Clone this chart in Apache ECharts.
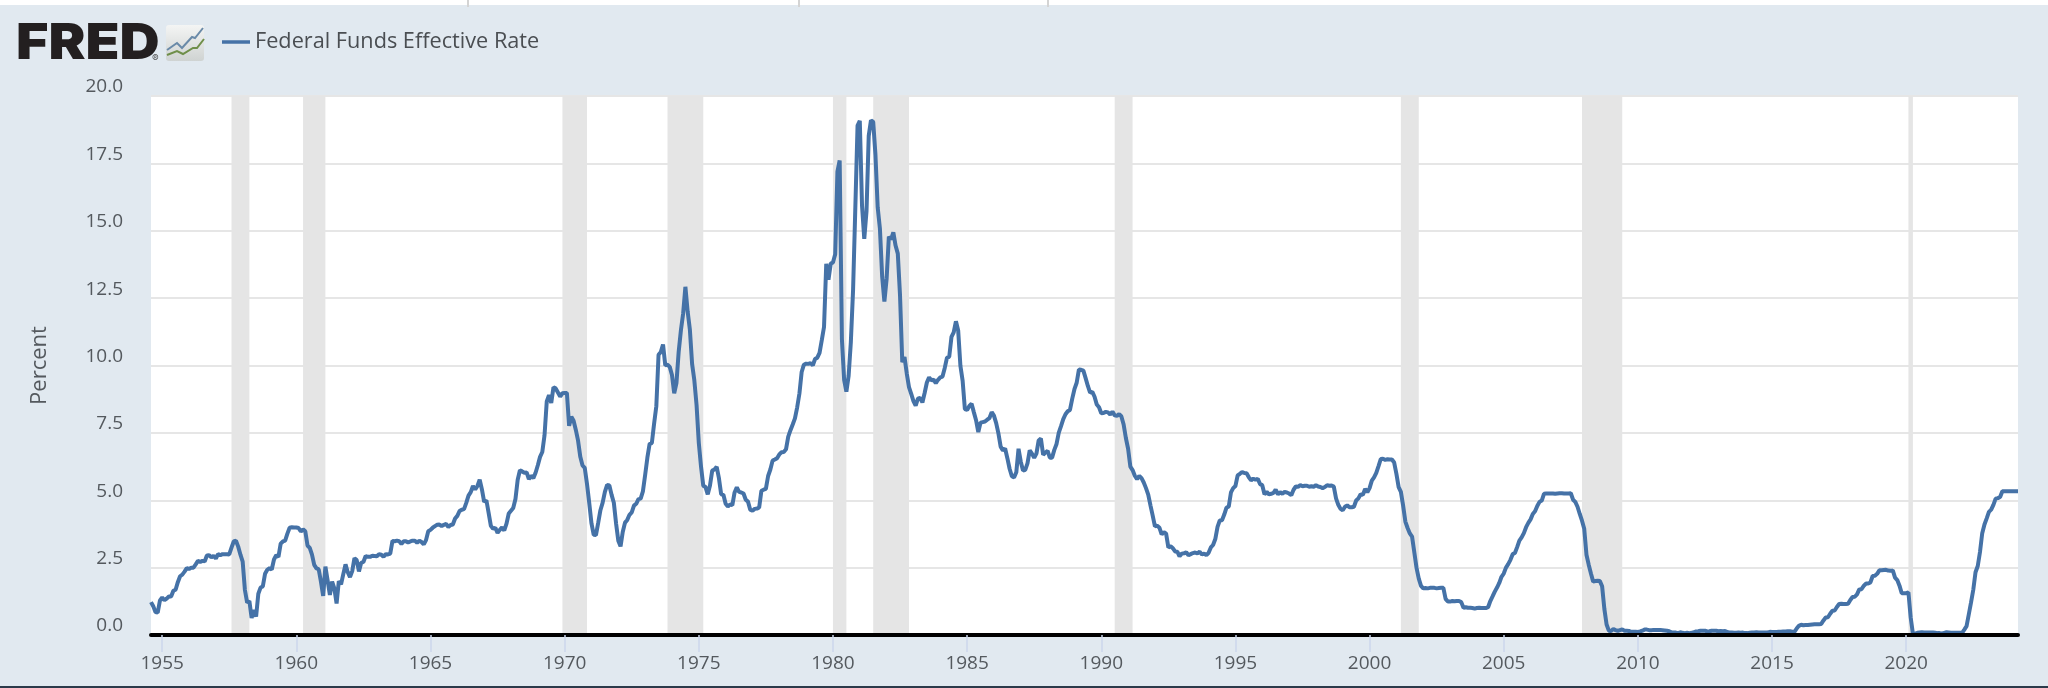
<!DOCTYPE html>
<html>
<head>
<meta charset="utf-8">
<title>Federal Funds Effective Rate</title>
<script src="https://cdn.jsdelivr.net/npm/echarts@6/dist/echarts.min.js"></script>
<style>
html,body{margin:0;padding:0;background:#e1e9f0;}
#chart{width:2048px;height:688px;}
</style>
</head>
<body>
<div id="chart"></div>
<script>
//月度数据, 1954-08 起
var rates1950s=[1.22,1.07,0.85,0.83,1.28,
    1.39,1.29,1.35,1.43,1.43,1.64,1.68,1.96,2.18,2.24,2.35,2.48,
    2.45,2.50,2.50,2.62,2.75,2.71,2.75,2.73,2.95,2.96,2.88,2.94,
    2.84,3.00,2.96,3.00,3.00,3.00,2.99,3.24,3.47,3.50,3.28,2.98,
    2.72,1.67,1.20,1.26,0.63,0.93,0.68,1.53,1.76,1.80,2.27,2.42,
    2.48,2.43,2.80,2.96,2.90,3.39,3.47,3.50,3.76,3.98,4.00,3.99];
var rates1960s=[3.99,3.97,3.84,3.92,3.85,3.32,3.23,2.98,2.60,2.47,2.44,1.98,
    1.45,2.54,2.02,1.49,1.98,1.73,1.17,2.00,1.88,2.26,2.62,2.33,
    2.15,2.37,2.85,2.78,2.36,2.68,2.71,2.93,2.90,2.90,2.94,2.93,
    2.92,3.00,2.98,2.90,3.00,2.99,3.02,3.49,3.48,3.50,3.48,3.38,
    3.48,3.48,3.43,3.47,3.50,3.50,3.42,3.50,3.45,3.36,3.52,3.85,
    3.90,3.98,4.04,4.09,4.10,4.04,4.09,4.12,4.01,4.08,4.10,4.32,
    4.42,4.60,4.65,4.67,4.90,5.17,5.30,5.53,5.40,5.53,5.76,5.40,
    4.94,5.00,4.53,4.05,3.94,3.98,3.79,3.90,3.99,3.88,4.13,4.51,
    4.61,4.71,5.05,5.76,6.11,6.07,6.02,6.03,5.78,5.91,5.82,6.02,
    6.30,6.61,6.79,7.41,8.67,8.90,8.61,9.19,9.15,9.00,8.85,8.97];
var rates1970s=[8.98,8.98,7.76,8.10,7.95,7.61,7.21,6.61,6.29,6.20,5.60,4.90,
    4.14,3.72,3.71,4.16,4.63,4.91,5.31,5.57,5.55,5.20,4.91,4.14,
    3.50,3.29,3.83,4.17,4.27,4.46,4.55,4.80,4.87,5.04,5.06,5.33,
    5.94,6.58,7.09,7.12,7.84,8.49,10.40,10.50,10.78,10.01,10.03,9.95,
    9.65,8.97,9.35,10.51,11.31,11.93,12.92,12.01,11.34,10.06,9.45,8.53,
    7.13,6.24,5.54,5.49,5.22,5.55,6.10,6.14,6.24,5.82,5.22,5.20,
    4.87,4.77,4.84,4.82,5.29,5.48,5.31,5.29,5.25,5.02,4.95,4.65,
    4.61,4.68,4.69,4.73,5.35,5.39,5.42,5.90,6.14,6.47,6.51,6.56,
    6.70,6.78,6.79,6.89,7.36,7.60,7.81,8.04,8.45,8.96,9.76,10.03,
    10.07,10.06,10.09,10.01,10.24,10.29,10.47,10.94,11.43,13.77,13.18,13.78];
var rates1980s=[13.82,14.13,17.19,17.61,10.98,9.47,9.03,9.61,10.87,12.81,15.85,18.90,
    19.08,15.93,14.70,15.72,18.52,19.10,19.04,17.82,15.87,15.08,13.31,12.37,
    13.22,14.78,14.68,14.94,14.45,14.15,12.59,10.12,10.31,9.71,9.20,8.95,
    8.68,8.51,8.77,8.80,8.63,8.98,9.37,9.56,9.45,9.48,9.34,9.47,
    9.56,9.59,9.91,10.29,10.32,11.06,11.23,11.64,11.30,9.99,9.43,8.38,
    8.35,8.50,8.58,8.27,7.97,7.53,7.88,7.90,7.92,7.99,8.05,8.27,
    8.14,7.86,7.48,6.99,6.85,6.92,6.56,6.17,5.89,5.85,6.04,6.91,
    6.43,6.10,6.13,6.37,6.85,6.73,6.58,6.73,7.22,7.29,6.69,6.77,
    6.83,6.58,6.58,6.87,7.09,7.51,7.75,8.01,8.19,8.30,8.35,8.76,
    9.12,9.36,9.85,9.84,9.81,9.53,9.24,8.99,9.02,8.84,8.55,8.45];
var rates1990s=[8.23,8.24,8.28,8.26,8.18,8.29,8.15,8.13,8.20,8.11,7.81,7.31,
    6.91,6.25,6.12,5.91,5.78,5.90,5.82,5.66,5.45,5.21,4.81,4.43,
    4.03,4.06,3.98,3.73,3.82,3.76,3.25,3.30,3.22,3.10,3.09,2.92,
    3.02,3.03,3.07,2.96,3.00,3.04,3.06,3.03,3.09,2.99,3.02,2.96,
    3.05,3.25,3.34,3.56,4.01,4.25,4.26,4.47,4.73,4.76,5.29,5.45,
    5.53,5.92,5.98,6.05,6.01,6.00,5.85,5.74,5.80,5.76,5.80,5.60,
    5.56,5.22,5.31,5.22,5.24,5.27,5.40,5.22,5.30,5.24,5.31,5.29,
    5.25,5.19,5.39,5.51,5.50,5.56,5.52,5.54,5.54,5.50,5.52,5.50,
    5.56,5.51,5.49,5.45,5.49,5.56,5.54,5.55,5.51,5.07,4.83,4.68,
    4.63,4.76,4.81,4.74,4.74,4.76,4.99,5.07,5.22,5.20,5.42,5.30];
var rates2000s=[5.45,5.73,5.85,6.02,6.27,6.53,6.54,6.50,6.52,6.51,6.51,6.40,
    5.98,5.49,5.31,4.80,4.21,3.97,3.77,3.65,3.07,2.49,2.09,1.82,
    1.73,1.74,1.73,1.75,1.75,1.75,1.73,1.74,1.75,1.75,1.34,1.24,
    1.24,1.26,1.25,1.26,1.26,1.22,1.01,1.03,1.01,1.01,1.00,0.98,
    1.00,1.01,1.00,1.00,1.00,1.03,1.26,1.43,1.61,1.76,1.93,2.16,
    2.28,2.50,2.63,2.79,3.00,3.04,3.26,3.50,3.62,3.78,4.00,4.16,
    4.29,4.49,4.59,4.79,4.94,4.99,5.24,5.25,5.25,5.25,5.25,5.24,
    5.25,5.26,5.26,5.25,5.25,5.25,5.26,5.02,4.94,4.76,4.49,4.24,
    3.94,2.98,2.61,2.28,1.98,2.00,2.01,2.00,1.81,0.97,0.39,0.16,
    0.15,0.22,0.18,0.15,0.18,0.21,0.16,0.16,0.15,0.12,0.12,0.12];
var rates2010s=[0.11,0.13,0.16,0.20,0.20,0.18,0.18,0.19,0.19,0.19,0.19,0.18,
    0.17,0.16,0.14,0.10,0.09,0.09,0.07,0.10,0.08,0.07,0.08,0.07,
    0.08,0.10,0.13,0.14,0.16,0.16,0.16,0.13,0.14,0.16,0.16,0.16,
    0.14,0.15,0.14,0.15,0.11,0.09,0.09,0.08,0.08,0.09,0.08,0.09,
    0.07,0.07,0.08,0.09,0.09,0.10,0.09,0.09,0.09,0.09,0.09,0.12,
    0.11,0.11,0.11,0.12,0.12,0.13,0.13,0.14,0.14,0.12,0.12,0.24,
    0.34,0.38,0.36,0.37,0.37,0.38,0.39,0.40,0.40,0.40,0.41,0.54,
    0.65,0.66,0.79,0.90,0.91,1.04,1.15,1.16,1.15,1.15,1.16,1.30,
    1.41,1.42,1.51,1.69,1.70,1.82,1.91,1.91,1.95,2.19,2.20,2.27,
    2.40,2.40,2.41,2.42,2.39,2.38,2.40,2.13,2.04,1.83,1.55,1.55];
var rates2020s=[1.55,1.58,0.65,0.05,0.05,0.08,0.09,0.10,0.09,0.09,0.09,0.09,
    0.09,0.08,0.07,0.07,0.06,0.08,0.10,0.09,0.08,0.08,0.08,0.08,
    0.08,0.08,0.20,0.33,0.77,1.21,1.68,2.33,2.56,3.08,3.78,4.10,
    4.33,4.57,4.65,4.83,5.06,5.08,5.12,5.33,5.33,5.33,5.33,5.33,
    5.33,5.33,5.33];
//衰退区间
var recessions=[['1957-08','1958-04'],['1960-04','1961-02'],['1969-12','1970-11'],
    ['1973-11','1975-03'],['1980-01','1980-07'],['1981-07','1982-11'],
    ['1990-07','1991-03'],['2001-03','2001-11'],['2007-12','2009-06'],['2020-02','2020-04']];
var yearLabels=['1955','1960','1965','1970','1975','1980','1985','1990','1995','2000','2005','2010','2015','2020'];
var seriesName='Federal Funds Effective Rate';

var rates=[].concat(rates1950s,rates1960s,rates1970s,rates1980s,rates1990s,rates2000s,rates2010s,rates2020s);
var months=[];
var y=1954,m=8;
for (var i=0;i<rates.length;i++) {
    months.push(y+'-'+(m<10?'0'+m:m));
    m++;
    if (m>12) {m=1;y++;}
}
function isYearTick(index,name){
    return name.slice(5)=='01' && yearLabels.indexOf(name.slice(0,4))>=0;
}

var textColor='#54595e';
var myChart=echarts.init(document.getElementById('chart'));
var option={
    backgroundColor:'#e1e9f0',
    animation:false,
    textStyle:{fontFamily:'"Open Sans"'},
    legend:{
        left:222,top:31,padding:0,
        icon:'rect',
        itemWidth:28,itemHeight:3.5,itemGap:12,
        data:[seriesName],
        textStyle:{fontSize:21.7,color:'#4a4e52',fontFamily:'"Open Sans"'}
    },
    grid:{show:true,backgroundColor:'#fff',borderWidth:0,left:151,right:30,top:96,bottom:53},
    xAxis:{
        type:'category',
        data:months,
        boundaryGap:false,
        z:5,
        axisLine:{lineStyle:{color:'#000',width:4}},
        axisTick:{interval:isYearTick,length:17,lineStyle:{color:'#ccd6eb',width:1.5}},
        axisLabel:{interval:isYearTick,margin:19,fontSize:19,color:textColor,
            formatter:function(v){return v.slice(0,4);}},
        splitLine:{show:false}
    },
    yAxis:{
        type:'value',
        min:0,max:20,interval:2.5,
        name:'Percent',
        nameLocation:'middle',
        nameGap:100,
        nameTextStyle:{fontSize:22,color:textColor},
        axisLine:{show:false},
        axisTick:{show:false},
        axisLabel:{margin:28,fontSize:19,color:textColor,verticalAlign:'bottom',lineHeight:18,
            formatter:function(v){return v.toFixed(1);}},
        splitLine:{lineStyle:{color:'#e6e6e6',width:2}}
    },
    series:[{
        name:seriesName,
        type:'line',
        data:rates,
        symbol:'none',
        lineStyle:{color:'#4572a7',width:4},
        itemStyle:{color:'#4572a7'},
        markArea:{
            silent:true,
            itemStyle:{color:'#e5e5e5'},
            data:recessions.map(function(r){return [{xAxis:r[0]},{xAxis:r[1]}];})
        }
    }],
    graphic:[
        //顶部白条和底边
        {type:'rect',left:0,top:0,shape:{width:2048,height:5},style:{fill:'#fff'}},
        {type:'rect',left:467,top:0,shape:{width:2,height:7},style:{fill:'#d4d4d4'}},
        {type:'rect',left:798,top:0,shape:{width:2,height:7},style:{fill:'#d4d4d4'}},
        {type:'rect',left:1047,top:0,shape:{width:2,height:7},style:{fill:'#d4d4d4'}},
        {type:'rect',left:0,top:686,shape:{width:2048,height:2},style:{fill:'#2b3a4a'}},
        //FRED 标志
        {type:'text',x:16,y:19,scaleX:1.11,style:{text:'FRED',fontFamily:'Inter',fontWeight:900,fontSize:50,fill:'#231f20'}},
        {type:'text',left:152,top:54,style:{text:'®',fontFamily:'Inter',fontSize:10,fill:'#555'}},
        {type:'rect',left:166,top:25,shape:{width:38,height:36,r:3},
            style:{fill:new echarts.graphic.LinearGradient(0,0,0,1,[{offset:0,color:'#f4f5f4'},{offset:1,color:'#cfd3d2'}])}},
        {type:'polyline',shape:{points:[[167,50],[177,43],[182,48],[192,37],[195,38],[203,28]]},style:{stroke:'#6a8aa8',lineWidth:2,fill:null}},
        {type:'polyline',shape:{points:[[167,55],[177,51],[183,54],[193,48],[197,48],[204,39]]},style:{stroke:'#6f8f4a',lineWidth:2,fill:null}}
    ]
};
myChart.setOption(option);
</script>
</body>
</html>
